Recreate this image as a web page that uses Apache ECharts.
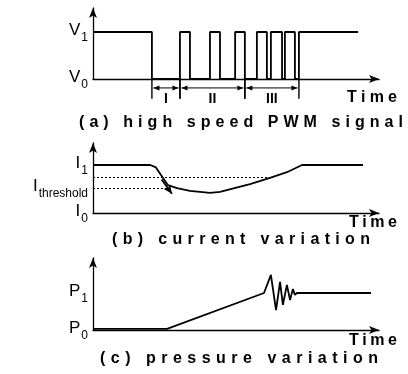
<!DOCTYPE html>
<html>
<head>
<meta charset="utf-8">
<script src="https://cdn.jsdelivr.net/npm/echarts@6/dist/echarts.min.js"></script>
<style>
html, body { margin: 0; padding: 0; background: #fff; }
#chart { width: 408px; height: 374px; }
</style>
</head>
<body>
<div id="chart"></div>
<script>
// (a) high speed PWM signal: switching times and the level held after each one
const pwmTimes = [0, 20.6, 30.4, 33.9, 40.9, 44.4, 49.7, 53.1, 57.3, 60.8, 62.2, 66.1, 67.1, 70.6, 72.0, 92.7]
const pwmLevels = [1, 0, 1, 0, 1, 0, 1, 0, 1, 0, 1, 0, 1, 0, 1, 1]
const regionEdges = [20.6, 30.4, 53.1, 72.0]
const regionNames = ['I', 'II', 'III']

// (b) current variation
const curTimes = [0, 20, 22, 26.2, 29.4, 33.9, 40.9, 44.4, 54.9, 61.9, 67.8, 73.1, 94.4]
const curValues = [1, 1, 0.95, 0.58, 0.52, 0.46, 0.42, 0.44, 0.60, 0.73, 0.85, 1, 1]
const dottedLevels = [0.75, 0.52]
const dottedEnds = [62.5, 26.1]
const arrowFrom = [24, 0.70]
const arrowTo = [27.6, 0.40]

// (c) pressure variation
const presTimes = [0, 25.9, 59.8, 62.2, 64.0, 65.4, 66.4, 67.8, 68.9, 69.9, 70.6, 71.3, 97.2]
const presValues = [0.03, 0.03, 1.0, 1.49, 0.54, 1.30, 0.68, 1.22, 0.81, 1.11, 0.95, 1.0, 1.0]

// axis labels
const aTickValues = [0, 1]
const aTickSubs = ['0', '1']
const bTickValues = [0, 0.52, 1]
const bTickSubs = ['0', 'threshold', '1']
const cTickValues = [0, 1]
const cTickSubs = ['0', '1']
const captions = ['(a) high speed PWM signal', '(b) current variation', '(c) pressure variation']
const timeLabel = 'Time'

const FONT = '"Liberation Sans", Arial, sans-serif'
const chart = echarts.init(document.getElementById('chart'))

const zip = (xs, ys) => xs.map((x, i) => [x, ys[i]])

// letter-spaced text, laid out one glyph at a time across [left, right]
const ctx = document.createElement('canvas').getContext('2d')
function spaced (str, left, right, y, size) {
  const font = 'bold ' + size + 'px ' + FONT
  ctx.font = font
  const chars = str.split('')
  const widths = chars.map(c => ctx.measureText(c).width)
  const total = widths.reduce((a, b) => a + b, 0)
  const gap = (right - left - total) / (chars.length - 1)
  let x = left
  const els = []
  chars.forEach((c, i) => {
    if (c !== ' ') {
      els.push({ type: 'text', x: x, y: y, silent: true,
        style: { text: c, font: font, fill: '#000', verticalAlign: 'middle' } })
    }
    x += widths[i] + gap
  })
  return els
}

function yAxisFor (idx, max, main, values, subs) {
  return {
    type: 'value', gridIndex: idx, min: 0, max: max,
    splitLine: { show: false },
    axisTick: { show: false },
    axisLine: { show: true, symbol: ['none', 'arrow'], symbolSize: [6, 10], lineStyle: { color: '#000', width: 1.3 } },
    axisLabel: {
      customValues: values,
      margin: 5,
      formatter: v => '{m|' + main + '}{s|' + subs[values.indexOf(v)] + '}',
      rich: {
        m: { fontSize: 17, fontFamily: FONT, color: '#000', verticalAlign: 'bottom', padding: [2, 0, 5, 0] },
        s: { fontSize: 12, fontFamily: FONT, color: '#000', verticalAlign: 'bottom', padding: [0, 0, 0, 1] }
      }
    }
  }
}

function xAxisFor (idx) {
  return {
    type: 'value', gridIndex: idx, min: 0, max: 100,
    splitLine: { show: false },
    axisTick: { show: false },
    axisLabel: { show: false },
    axisLine: { show: true, symbol: ['none', 'arrow'], symbolSize: [6, 10], lineStyle: { color: '#000', width: 1.3 } }
  }
}

const blackLine = { color: '#000', width: 1.8 }

// region markers under the PWM axis: dividers, double arrow, roman label
function renderRegion (params, api) {
  const t0 = api.value(0)
  const t1 = api.value(1)
  const top0 = api.coord([t0, 0])
  const bot0 = api.coord([t0, -0.42])
  const top1 = api.coord([t1, 0])
  const bot1 = api.coord([t1, -0.42])
  const ya = api.coord([t0, -0.19])[1]
  const x0 = top0[0] + 1.5
  const x1 = top1[0] - 1.5
  const stroke = { stroke: '#000', lineWidth: 1.4 }
  return {
    type: 'group',
    children: [
      { type: 'line', shape: { x1: top0[0], y1: top0[1], x2: bot0[0], y2: bot0[1] }, style: stroke },
      { type: 'line', shape: { x1: top1[0], y1: top1[1], x2: bot1[0], y2: bot1[1] }, style: stroke },
      { type: 'line', shape: { x1: x0, y1: ya, x2: x1, y2: ya }, style: { stroke: '#000', lineWidth: 1 } },
      { type: 'polygon', shape: { points: [[x0, ya], [x0 + 6, ya - 2.5], [x0 + 6, ya + 2.5]] }, style: { fill: '#000' } },
      { type: 'polygon', shape: { points: [[x1, ya], [x1 - 6, ya - 2.5], [x1 - 6, ya + 2.5]] }, style: { fill: '#000' } },
      { type: 'text', x: (top0[0] + top1[0]) / 2, y: ya + 11,
        style: { text: regionNames[params.dataIndex], font: 'bold 14px ' + FONT, fill: '#000', align: 'center', verticalAlign: 'middle' } }
    ]
  }
}

const dottedLines = dottedLevels.map((lv, i) => [
  { coord: [0, lv], symbol: 'none', lineStyle: { type: [2, 2], width: 1.2, color: '#000' } },
  { coord: [dottedEnds[i], lv], symbol: 'none' }
])

const option = {
  animation: false,
  backgroundColor: '#fff',
  grid: [
    { left: 93, top: 8, width: 286, height: 71 },
    { left: 93, top: 143, width: 286, height: 70 },
    { left: 93, top: 258, width: 286, height: 72 }
  ],
  xAxis: [xAxisFor(0), xAxisFor(1), xAxisFor(2)],
  yAxis: [
    yAxisFor(0, 71 / 47, 'V', aTickValues, aTickSubs),
    yAxisFor(1, 70 / 48, 'I', bTickValues, bTickSubs),
    yAxisFor(2, 72 / 37, 'P', cTickValues, cTickSubs)
  ],
  series: [
    {
      type: 'line', xAxisIndex: 0, yAxisIndex: 0, step: 'end', clip: false, silent: true,
      showSymbol: false, lineStyle: blackLine,
      data: zip(pwmTimes, pwmLevels)
    },
    {
      type: 'custom', xAxisIndex: 0, yAxisIndex: 0, clip: false, silent: true,
      encode: { x: [0, 1] },
      data: regionNames.map((n, i) => [regionEdges[i], regionEdges[i + 1]]),
      renderItem: renderRegion
    },
    {
      type: 'line', xAxisIndex: 1, yAxisIndex: 1, clip: false, silent: true,
      showSymbol: false, lineStyle: blackLine,
      data: zip(curTimes, curValues),
      markLine: {
        silent: true, animation: false,
        lineStyle: { color: '#000', width: 1.8, type: 'solid' },
        label: { show: false },
        data: dottedLines.concat([[
          { coord: arrowFrom, symbol: 'none' },
          { coord: arrowTo, symbol: 'arrow', symbolSize: [6, 9] }
        ]])
      }
    },
    {
      type: 'line', xAxisIndex: 2, yAxisIndex: 2, clip: false, silent: true,
      showSymbol: false, lineStyle: blackLine,
      data: zip(presTimes, presValues)
    }
  ],
  graphic: [].concat(
    spaced(timeLabel, 347, 397, 98, 16),
    spaced(timeLabel, 349, 397, 223, 16),
    spaced(timeLabel, 349, 397, 341, 16),
    spaced(captions[0], 79, 403, 123, 16),
    spaced(captions[1], 112, 370, 240, 16),
    spaced(captions[2], 100, 378, 359, 16)
  )
}
chart.setOption(option)
</script>
</body>
</html>
